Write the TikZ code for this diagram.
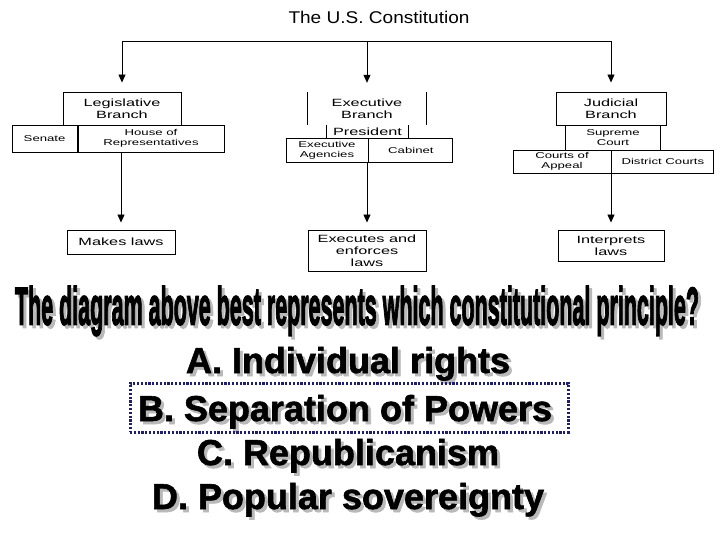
\documentclass[tikz,border=0pt]{standalone}
\usepackage{fontspec}
\setmainfont{Liberation Sans}
\newfontfamily\boxfont{Liberation Sans}[FakeStretch=1.55]
\newfontfamily\titlefont{Liberation Sans}[FakeStretch=1.12]
\newfontfamily\qfont{Liberation Sans}[BoldFeatures={FakeBold=3}]
\newfontfamily\ansfont{Liberation Sans}[BoldFeatures={FakeBold=1.6}]
\usetikzlibrary{arrows.meta,positioning}
\definecolor{pickblue}{RGB}{30,30,110}

\begin{document}
\begin{tikzpicture}[x=1pt,y=-1pt]
  \tikzset{
    block/.style={draw, line width=0.9pt, inner sep=0pt, align=center, font=\boxfont\fontsize{10.5}{12}\selectfont},
    subblock/.style={block, font=\boxfont\fontsize{8.5}{10}\selectfont},
    open/.style={inner sep=0pt, align=center, font=\boxfont\fontsize{10.5}{12}\selectfont},
    rule/.style={line width=0.9pt},
    flow/.style={-{Triangle[length=8pt,width=7pt]}, line width=0.9pt},
    question/.style={inner sep=0pt, font=\qfont\bfseries},
    ans/.style={inner sep=0pt, anchor=base, font=\ansfont\fontsize{36}{40}\selectfont\bfseries},
    ansshadow/.style={ans, text=gray!55},
    pick/.style={draw=pickblue, line width=3pt, dash pattern=on 2.2pt off 1.6pt}
  }
  \useasboundingbox (0,0) rectangle (720,540);

  \node[font=\titlefont\fontsize{17}{20}\selectfont] (const) at (379,17) {The U.S. Constitution};

  % legislative
  \node[block, minimum width=118pt, minimum height=33pt] (legis) at (122,108.5) {Legislative\\Branch};
  \node[subblock, minimum width=146pt, minimum height=27pt] (house) at (151,138.5) {House of\\Representatives};
  \node[subblock, minimum width=65pt, minimum height=27pt, left=0pt of house] (senate) {Senate};
  \node[block, minimum width=108pt, minimum height=24pt] (makes) at (121,242) {Makes laws};

  % executive
  \node[open, minimum width=118pt, minimum height=33pt] (exec) at (367,108.5) {Executive\\Branch};
  \node[open, minimum width=81pt, minimum height=13pt] (pres) at (367.5,131.5) {President};
  \node[subblock, minimum width=82pt, minimum height=24pt] (agencies) at (327,150) {Executive\\Agencies};
  \node[subblock, minimum width=84pt, minimum height=24pt, right=0pt of agencies] (cabinet) {Cabinet};
  \node[block, minimum width=118pt, minimum height=41pt] (executes) at (367,250.5) {Executes and\\enforces\\laws};
  \draw[rule] (exec.north west) -- (exec.south west) (exec.north east) -- (exec.south east);
  \draw[rule] (pres.north west) -- (pres.south west) (pres.north east) -- (pres.south east);

  % judicial
  \node[block, minimum width=110pt, minimum height=33pt] (judic) at (611,108.5) {Judicial\\Branch};
  \node[open, font=\boxfont\fontsize{8.5}{10}\selectfont, minimum width=94pt, minimum height=25pt] (supreme) at (613,137.5) {Supreme\\Court};
  \node[subblock, minimum width=98pt, minimum height=23pt] (appeal) at (562,161.5) {Courts of\\Appeal};
  \node[subblock, minimum width=102pt, minimum height=23pt, right=0pt of appeal] (district) {District Courts};
  \node[block, minimum width=106pt, minimum height=31pt] (interprets) at (611,245.5) {Interprets\\laws};
  \draw[rule] (supreme.north west) -- (supreme.south west) (supreme.north east) -- (supreme.south east);

  % connectors
  \coordinate (bus) at (367,41);
  \draw[rule] (legis |- bus) -- (judic |- bus);
  \draw[flow, shorten >=9pt] (legis |- bus) -- (legis);
  \draw[flow, shorten >=9pt] (bus) -- (exec);
  \draw[flow, shorten >=9pt] (judic |- bus) -- (judic);
  \draw[flow, shorten >=7pt] (makes |- house.south) -- (makes);
  \draw[flow, shorten >=7pt] (executes |- agencies.south) -- (executes);
  \draw[flow, shorten >=7pt] (interprets |- appeal.south) -- (interprets);

  % question
  \node[question, text=gray!55] (qshadow) at (360,314) {\resizebox*{684pt}{50pt}{The diagram above best represents which constitutional principle?}};
  \node[question] (ask) at (357,311) {\resizebox*{684pt}{50pt}{The diagram above best represents which constitutional principle?}};

  % answers
  \node[ansshadow] (ansAs) at (351,376) {A. Individual rights};
  \node[ans] (ansA) at (348,373) {A. Individual rights};
  \node[ansshadow] (ansBs) at (348,424) {B. Separation of Powers};
  \node[ans] (ansB) at (345,421) {B. Separation of Powers};
  \node[ansshadow] (ansCs) at (351,468) {C. Republicanism};
  \node[ans] (ansC) at (348,465) {C. Republicanism};
  \node[ansshadow] (ansDs) at (351,512) {D. Popular sovereignty};
  \node[ans] (ansD) at (348,509) {D. Popular sovereignty};
  \node[pick, minimum width=438pt, minimum height=49pt] (choice) at (349,407.5) {};
\end{tikzpicture}
\end{document}
